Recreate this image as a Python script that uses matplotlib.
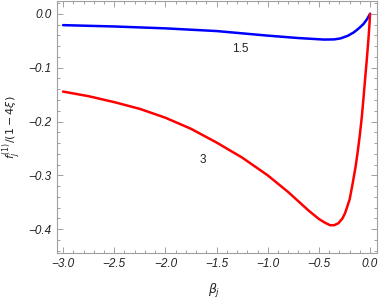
import matplotlib
matplotlib.use("Agg")
import matplotlib.pyplot as plt
from matplotlib.ticker import MultipleLocator, FuncFormatter

# blue curve (1.5)
blue_x = [-3.0, -2.5, -2.0, -1.5, -1.0, -0.7, -0.45, -0.35, -0.29, -0.22, -0.16,
          -0.11, -0.065, -0.03, 0.0]
blue_y = [-0.021, -0.0235, -0.027, -0.032, -0.0405, -0.045, -0.0478, -0.0475,
          -0.0457, -0.041, -0.0346, -0.027, -0.019, -0.010, 0.0]

# red curve (3)
red_x = [-3.0, -2.75, -2.5, -2.25, -2.0, -1.75, -1.5, -1.25, -1.0, -0.8, -0.6, -0.5,
         -0.44, -0.39, -0.35, -0.31, -0.27, -0.244, -0.2, -0.17, -0.14, -0.12, -0.1,
         -0.08, -0.065, -0.048, -0.032, -0.016, -0.006, 0.0]
red_y = [-0.1444, -0.153, -0.164, -0.1765, -0.193, -0.2135, -0.239, -0.267, -0.300,
         -0.331, -0.3655, -0.381, -0.388, -0.3926, -0.3925, -0.389, -0.380, -0.370,
         -0.345, -0.315, -0.282, -0.255, -0.225, -0.190, -0.158, -0.120, -0.085,
         -0.047, -0.020, 0.0]

labels = ["1.5", "3"]
label_pos = [(-1.27, -0.066), (-1.63, -0.272)]

fig = plt.figure(figsize=(3.82, 3.0), dpi=100)
ax = fig.add_axes([0.149, 0.157, 0.838, 0.84])

ax.plot(blue_x, blue_y, color="#0000ff", lw=1.8, solid_joinstyle="round",
        solid_capstyle="round")
ax.plot(red_x, red_y, color="#ff0000", lw=1.8, solid_joinstyle="round",
        solid_capstyle="round")

for t, (x, y) in zip(labels, label_pos):
    ax.text(x, y, t, fontsize=8.5, ha="center", va="center", color="#222222",
            family="Liberation Sans")

ax.set_xlim(-3.06, 0.068)
ax.set_ylim(-0.444, 0.024)

fmt = FuncFormatter(lambda v, p: ("%.1f" % v).replace("-", "\u2212") if abs(v) > 1e-9 else "0.0")
ax.xaxis.set_major_locator(MultipleLocator(0.5))
ax.xaxis.set_minor_locator(MultipleLocator(0.1))
ax.yaxis.set_major_locator(MultipleLocator(0.1))
ax.yaxis.set_minor_locator(MultipleLocator(0.02))
ax.xaxis.set_major_formatter(fmt)
ax.yaxis.set_major_formatter(fmt)

for s in ax.spines.values():
    s.set_color("#a0a0a0")
    s.set_linewidth(0.8)

ax.tick_params(which="both", direction="in", top=True, right=True, color="#a0a0a0",
               width=0.7, labelsize=8.5, labelcolor="#222222")
ax.tick_params(which="major", length=4, pad=4)
ax.tick_params(which="minor", length=2)
for lab in ax.get_xticklabels() + ax.get_yticklabels():
    lab.set_fontstyle("italic")
    lab.set_family("Liberation Sans")

ax.set_xlabel(r"$\beta_j$", fontsize=9, color="#222222")
ax.xaxis.set_label_coords(0.49, -0.115)
fig.text(12.5 / 382, 1 - 127 / 300, r"$f_j^{(1)}/(1-4\xi)$", fontsize=8,
         color="#222222", rotation=90, ha="center", va="center")

fig.savefig("out.png", dpi=100)
